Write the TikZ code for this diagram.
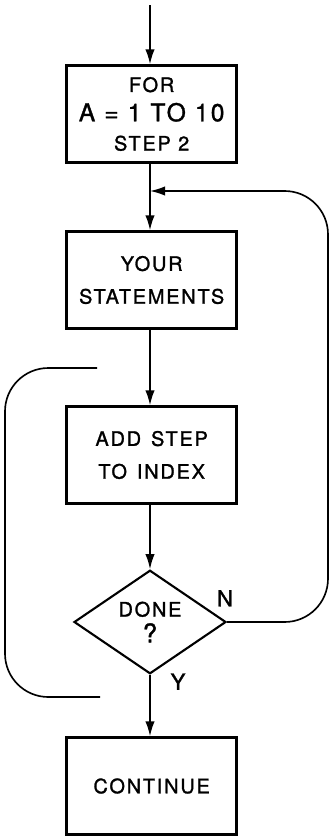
\documentclass[tikz,border=0pt]{standalone}
\usepackage{fontspec}
\setmainfont{TeX Gyre Heros}
\newfontfamily\hand[LetterSpace=9,FakeBold=1.3]{TeX Gyre Heros}
\usepackage{tikz}
\usetikzlibrary{shapes.geometric,arrows.meta}

\begin{document}
\begin{tikzpicture}[transform shape,scale=1,
	box/.style={draw,line width=2.2pt,minimum width=5.1cm,minimum height=2.9cm,align=center,font=\hand\fontsize{17}{28}\selectfont},
	decision/.style={draw,diamond,line width=1.8pt,minimum width=4.56cm,minimum height=2.8cm,inner sep=0pt,align=center,font=\hand\fontsize{17}{22}\selectfont},
	flow/.style={line width=1.4pt,-{Latex[length=4.5mm,width=2.8mm]}},
	loop/.style={line width=1.4pt,rounded corners=1.3cm},
	tag/.style={font=\hand\fontsize{19}{20}\selectfont}]
		\useasboundingbox (0,0) rectangle (9.93,-25.11);
		% boxes of the loop
		\coordinate (start) at (4.5,-0.15);
		\node[box] (for) at (4.55,-3.42) {FOR\\[-3pt]{\fontsize{21}{24}\selectfont A = 1 TO 10}\\[-3pt]STEP 2};
		\coordinate (join) at (4.5,-5.73);
		\node[box] (stmt) at (4.55,-8.4) {YOUR\\STATEMENTS};
		\node[box] (add) at (4.55,-13.65) {ADD\enspace STEP\\TO\enspace INDEX};
		\node[decision] (done) at (4.5,-18.66) {DONE\\{\fontsize{22}{22}\selectfont ?}};
		\node[box] (cont) at (4.55,-23.58) {CONTINUE};
		% connectors
		\draw[flow] (start) -- (start|-for.north);
		\draw[line width=1.4pt] (join|-for.south) -- (join);
		\draw[flow] (join) -- (join|-stmt.north);
		\draw[flow] (join|-stmt.south) -- (join|-add.north);
		\draw[flow] (join|-add.south) -- (done.north);
		\draw[flow] (done.south) -- (done.south|-cont.north);
		\draw[loop,-{Latex[length=4.5mm,width=2.8mm]}] (done.east) -- (9.84,-18.66) -- (9.84,-5.73) -- (join);
		\node[tag] (no) at (6.75,-17.95) {N};
		\node[tag] (yes) at (5.34,-20.45) {Y};
		% range of the loop
		\coordinate (brtop) at (2.91,-11.04);
		\coordinate (brbot) at (3.0,-20.91);
		\draw[loop] (brtop) -- (0.15,-11.04) -- (0.15,-20.91) -- (brbot);
	\end{tikzpicture}
\end{document}
